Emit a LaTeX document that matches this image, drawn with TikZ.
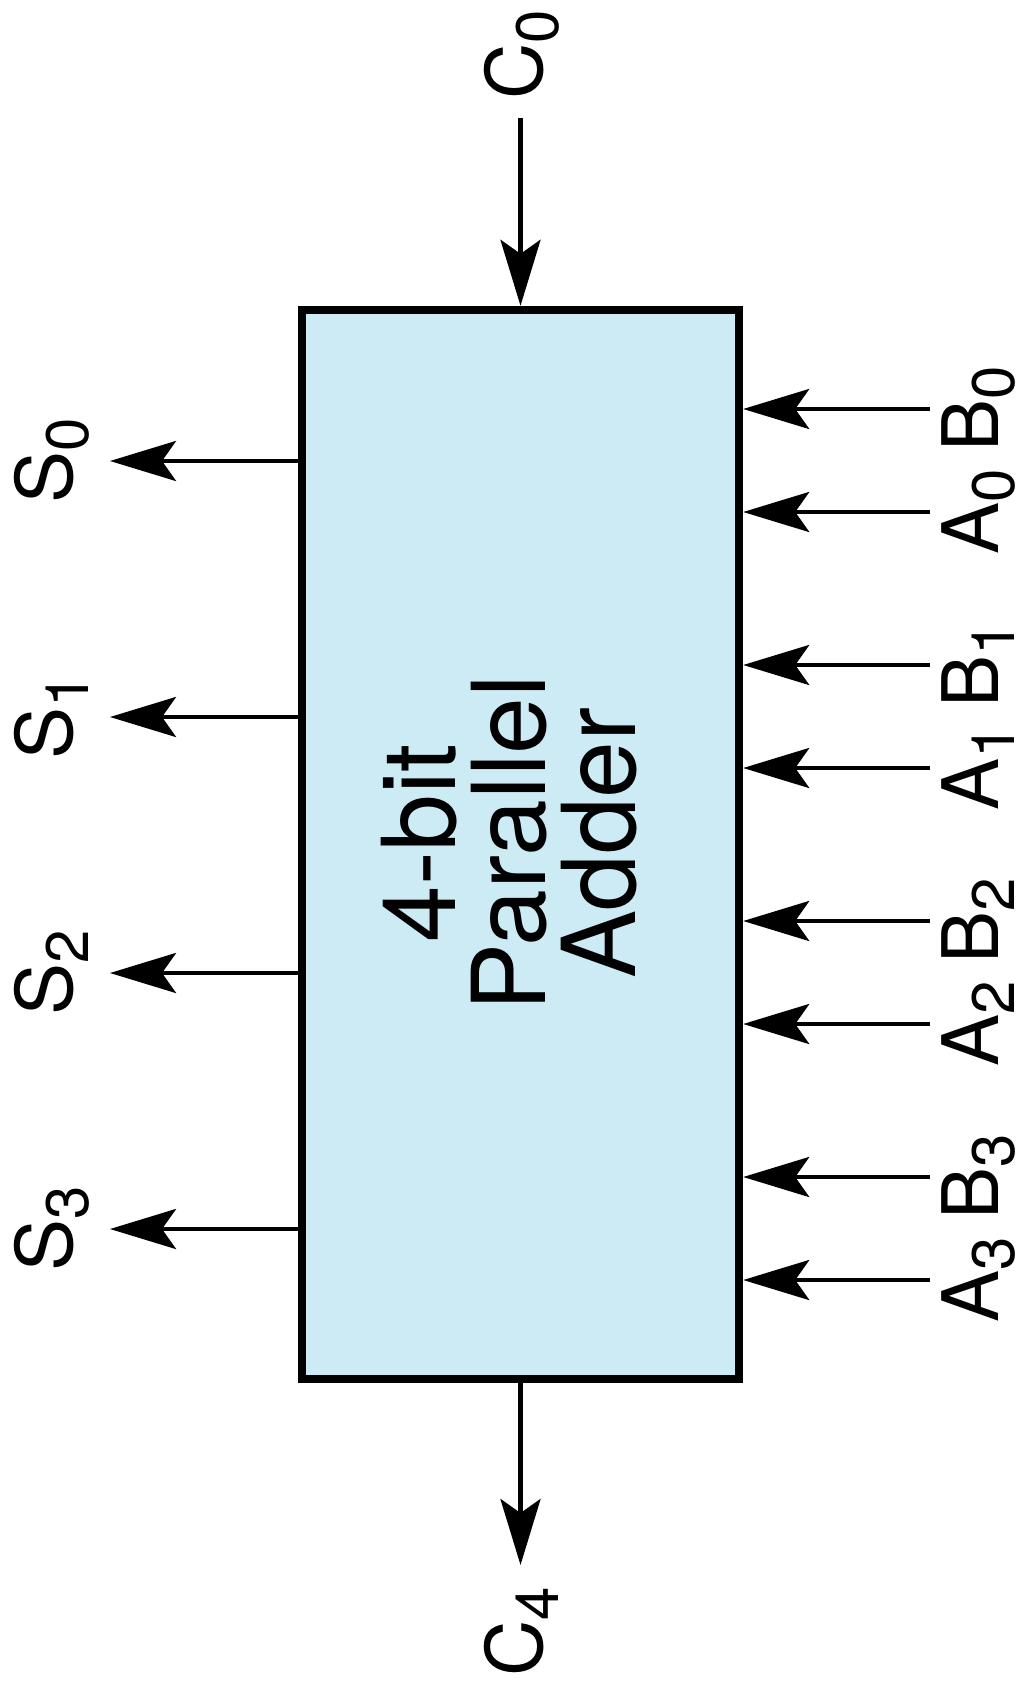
\documentclass[tikz,border=0pt]{standalone}
\usepackage{fontspec}
\setmainfont{TeX Gyre Heros}
\usetikzlibrary{arrows.meta}
\definecolor{boxfill}{RGB}{205,235,244}
\newcommand{\sbs}[1]{\raisebox{-8pt}{\fontsize{30}{30}\selectfont #1}}
\begin{document}
\begin{tikzpicture}[x=0.5pt,y=-0.5pt,
  arr/.style={line width=2.2pt, -{Stealth[length=33pt,width=20pt,inset=7pt]}},
  lab/.style={rotate=90, anchor=base, inner sep=0pt, font=\fontsize{39}{39}\selectfont},
  ]
\useasboundingbox (0,0) rectangle (1027,1690);
\node[draw, line width=4.2pt, fill=boxfill, minimum width=218.5pt, minimum height=534.5pt, inner sep=0pt] (box) at (520.5,844.5) {};
\node[rotate=90, align=center, inner sep=0pt, font=\fontsize{51}{45}\selectfont] (title) at (509,843) {4-bit\\Parallel\\Adder};
% carry in / out
\coordinate (c0) at (520.5,118);
\draw[arr] (c0) -- (box.north);
\node[lab] (lc0) at (542,55) {C\sbs{0}};
\coordinate (c4) at (520.5,1565);
\draw[arr] (box.south) -- (c4);
\node[lab] (lc4) at (542,1632) {C\sbs{4}};
% inputs
\foreach \i/\yb/\ya in {0/409/512, 1/665/768, 2/921/1024, 3/1177/1280}{
  \coordinate (b\i) at (930,\yb);
  \coordinate (a\i) at (930,\ya);
  \draw[arr] (b\i) -- (box.east |- b\i);
  \draw[arr] (a\i) -- (box.east |- a\i);
  \node[lab] (lb\i) at (998,\yb) {B\sbs{\i}};
  \node[lab] (la\i) at (998,\ya) {A\sbs{\i}};
}
% sums
\foreach \i/\y in {0/461, 1/717, 2/973, 3/1229}{
  \coordinate (s\i) at (110,\y);
  \draw[arr] (box.west |- s\i) -- (s\i);
  \node[lab] (ls\i) at (72,\y) {S\sbs{\i}};
}
\end{tikzpicture}
\end{document}
